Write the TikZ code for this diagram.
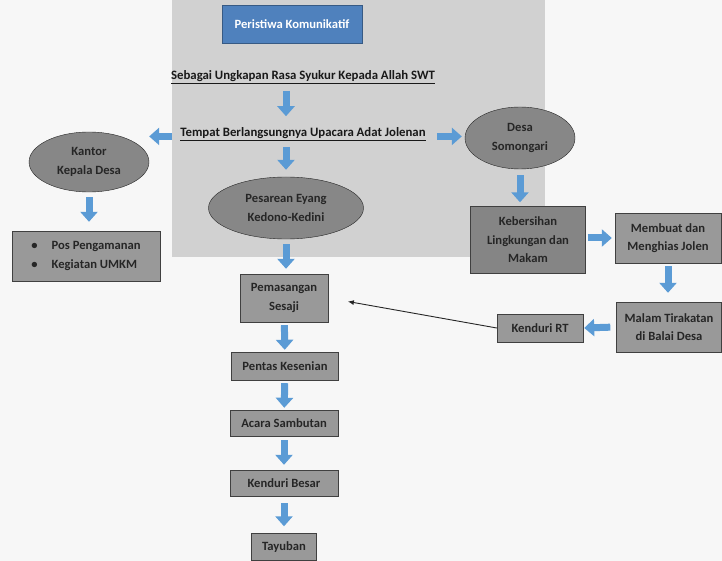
\documentclass[tikz,border=0pt]{standalone}
\usepackage{fontspec}
\setmainfont{Carlito}
\usetikzlibrary{shapes.geometric,arrows.meta}

\definecolor{arrowblue}{HTML}{5B9BD5}
\definecolor{boxblue}{HTML}{4F81BD}

\begin{document}
\begin{tikzpicture}[x=1pt,y=-1pt,
  box/.style={rectangle,draw=black!75,fill=black!40,inner sep=0pt,text=black!85,
    font=\bfseries\fontsize{12.6}{18.5}\selectfont,align=center},
  oval/.style={ellipse,draw=black!85,fill=black!47,inner sep=0pt,text=black!85,
    font=\bfseries\fontsize{12.6}{18.5}\selectfont,align=center},
  caption/.style={inner sep=1pt,text=black!90,font=\bfseries\fontsize{12.8}{15}\selectfont},
  fat/.style={draw=arrowblue,line width=7pt,-{Triangle[width=17pt,length=10pt]}},
  thinarrow/.style={draw=black!85,line width=0.9pt,-{Latex[length=6pt,width=5pt]}}]
  \useasboundingbox (0,0) rectangle (722,561);
  \fill[black!3] (0,0) rectangle (722,561);
  \fill[black!18] (172,0) rectangle (545,257);

  % top of the chart
  \node [box,fill=boxblue,draw=boxblue!70!black,text=white,minimum width=140pt,minimum height=38pt] (peristiwa) at (292,24) {Peristiwa Komunikatif};
  \node [caption] (syukur) at (303,77) {\underline{Sebagai Ungkapan Rasa Syukur Kepada Allah SWT}};
  \node [caption] (tempat) at (303,134) {\underline{Tempat Berlangsungnya Upacara Adat Jolenan}};

  % ovals
  \node [oval,minimum width=120pt,minimum height=60pt] (kantor) at (89,162) {Kantor\\Kepala Desa};
  \node [oval,minimum width=110pt,minimum height=62pt] (desa) at (520,138) {Desa\\Somongari};
  \node [oval,minimum width=155pt,minimum height=62pt] (pesarean) at (286,208) {Pesarean Eyang\\Kedono-Kedini};

  % boxes
  \node [box,minimum width=148pt,minimum height=50pt,align=left] (pos) at (86,256)
    {\textbullet\hspace{14pt}Pos Pengamanan\\\textbullet\hspace{14pt}Kegiatan UMKM};
  \node [box,minimum width=88pt,minimum height=48pt] (sesaji) at (284,298) {Pemasangan\\Sesaji};
  \node [box,minimum width=107pt,minimum height=28pt] (pentas) at (285,366) {Pentas Kesenian};
  \node [box,minimum width=108pt,minimum height=26pt] (sambutan) at (284,423) {Acara Sambutan};
  \node [box,minimum width=108pt,minimum height=26pt] (kenduribesar) at (284,483) {Kenduri Besar};
  \node [box,minimum width=65pt,minimum height=27pt] (tayuban) at (284,547) {Tayuban};
  \node [box,fill=black!48,minimum width=115pt,minimum height=67pt] (kebersihan) at (528,240) {Kebersihan\\Lingkungan dan\\Makam};
  \node [box,minimum width=106pt,minimum height=50pt] (membuat) at (668,238) {Membuat dan\\Menghias Jolen};
  \node [box,minimum width=105pt,minimum height=50pt] (malam) at (669,327) {Malam Tirakatan\\di Balai Desa};
  \node [box,minimum width=86pt,minimum height=28pt] (kenduriRT) at (540,328) {Kenduri RT};

  % block arrows
  \draw [fat,shorten <=6pt,shorten >=10pt] (pesarean.north |- syukur.south) -- (pesarean.north |- tempat.north);
  \draw [fat,shorten <=7pt] (tempat.base west) -- (tempat.base west -| kantor.east);
  \draw [fat,shorten <=10pt,shorten >=3pt] (tempat.base east) -- (tempat.base east -| desa.west);
  \draw [fat,shorten <=5pt,shorten >=7pt] (pesarean.north |- tempat.south) -- (pesarean.north);
  \draw [fat,shorten <=5pt,shorten >=9pt] (kantor.south) -- (kantor.south |- pos.north);
  \draw [fat,shorten <=5pt,shorten >=5pt] (pesarean.south) -- (pesarean.south |- sesaji.north);
  \draw [fat,shorten <=3pt,shorten >=2pt] (sesaji) -- (pentas);
  \draw [fat,shorten <=3pt,shorten >=2pt] (pentas) -- (sambutan);
  \draw [fat,shorten <=4pt,shorten >=5pt] (sambutan) -- (kenduribesar);
  \draw [fat,shorten <=7pt,shorten >=7pt] (kenduribesar) -- (tayuban);
  \draw [fat,shorten <=6pt,shorten >=4pt] (desa.south) -- (desa.south |- kebersihan.north);
  \draw [fat,shorten <=2pt,shorten >=3pt] (kebersihan.east |- membuat.west) -- (membuat.west);
  \draw [fat,shorten <=3pt,shorten >=9pt] (membuat.south) -- (membuat.south |- malam.north);
  \draw [fat,shorten <=6pt,shorten >=1pt] (malam.west) -- (kenduriRT.east);

  % thin line back to the sesaji box
  \draw [thinarrow,shorten >=20pt] (kenduriRT.west) -- (sesaji.east);
\end{tikzpicture}
\end{document}
